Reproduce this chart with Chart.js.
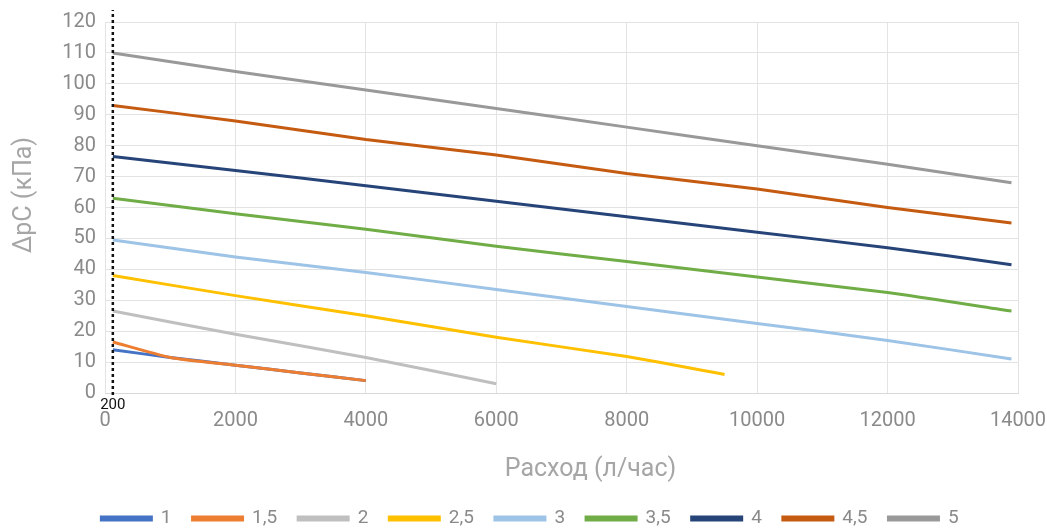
<!DOCTYPE html>
<html>
<head>
<meta charset="utf-8">
<script src="https://cdn.jsdelivr.net/npm/chart.js@4/dist/chart.umd.min.js"></script>
<style>
  html, body { margin: 0; padding: 0; background: #fff; }
  #wrap { width: 1047px; height: 529px; }
</style>
</head>
<body>
<div id="wrap"><canvas id="linechart"></canvas></div>
<script>
// data block
var seriesNames = ["1", "1,5", "2", "2,5", "3", "3,5", "4", "4,5", "5"];
var seriesColors = ["#4472c4", "#ed7d31", "#bfbfbf", "#ffc000", "#9dc3e6", "#70ad47", "#264478", "#c55a11", "#999999"];

var flow1 = [120, 1000, 2000, 3000, 4000];
var dp1 = [14, 11.5, 9, 6.5, 4];
var flow15 = [120, 1000, 2000, 3000, 4000];
var dp15 = [16.5, 11.5, 9, 6.5, 4];
var flow2 = [120, 2000, 4000, 6000];
var dp2 = [26.5, 19, 11.5, 3];
var flow25 = [120, 2000, 4000, 6000, 8000, 9500];
var dp25 = [38, 31.5, 25, 18, 11.8, 6];
var flowLong = [120, 2000, 4000, 6000, 8000, 10000, 12000, 13900];
var dp3 = [49.5, 44, 39, 33.5, 28, 22.5, 17, 11];
var dp35 = [63, 58, 53, 47.5, 42.5, 37.5, 32.5, 26.5];
var dp4 = [76.5, 72, 67, 62, 57, 52, 47, 41.5];
var dp45 = [93, 88, 82, 77, 71, 66, 60, 55];
var dp5 = [110, 104, 98, 92, 86, 80, 74, 68];

var seriesFlows = [flow1, flow15, flow2, flow25, flowLong, flowLong, flowLong, flowLong, flowLong];
var seriesDp = [dp1, dp15, dp2, dp25, dp3, dp35, dp4, dp45, dp5];

var markFlow = 120;
var markLabel = "200";
var xTitle = "Расход (л/час)";
var yTitle = "ΔpC (кПа)";

// datasets; series 1 drawn under 1,5
var datasets = seriesNames.map(function (name, i) {
  return {
    label: name,
    data: seriesFlows[i].map(function (x, j) { return {x: x, y: seriesDp[i][j]}; }),
    borderColor: seriesColors[i],
    backgroundColor: seriesColors[i],
    borderWidth: 3,
    pointRadius: 0,
    tension: 0.2,
    order: i === 0 ? 10 : i
  };
});

// dotted marker line + axis titles
var extrasPlugin = {
  id: 'extras',
  afterDatasetsDraw: function (chart) {
    var ctx = chart.ctx;
    var xs = chart.scales.x, ys = chart.scales.y;
    var px = xs.getPixelForValue(markFlow);
    var y0 = ys.getPixelForValue(0);
    ctx.save();
    ctx.strokeStyle = '#111';
    ctx.lineWidth = 2.5;
    ctx.setLineDash([3, 3]);
    ctx.beginPath();
    ctx.moveTo(px, y0 + 2);
    ctx.lineTo(px, chart.chartArea.top - 12);
    ctx.stroke();
    ctx.setLineDash([]);
    ctx.fillStyle = '#111';
    ctx.font = '15px Roboto';
    ctx.textAlign = 'center';
    ctx.textBaseline = 'middle';
    ctx.fillText(markLabel, px, y0 + 12);

    ctx.fillStyle = '#a6a6a6';
    ctx.font = '25px Roboto';
    ctx.fillText(xTitle, chart.chartArea.left + (chart.chartArea.right - chart.chartArea.left) / 2 + 29, y0 + 77);
    ctx.translate(25, ys.getPixelForValue(64));
    ctx.rotate(-Math.PI / 2);
    ctx.fillText(yTitle, 0, 0);
    ctx.restore();
  }
};

const config = {
  type: "line",
  data: {datasets: datasets},
  options: {
    animation: false,
    maintainAspectRatio: false,
    layout: {padding: {top: 22, right: 29, left: 42, bottom: -9}},
    plugins: {
      legend: {
        position: 'bottom',
        labels: {
          boxWidth: 50,
          boxHeight: 3,
          color: '#8a8a8a',
          font: {family: 'Roboto', size: 19},
          padding: 21,
          sort: function (a, b) { return a.datasetIndex - b.datasetIndex; }
        }
      },
      tooltip: {enabled: false}
    },
    scales: {
      x: {
        type: 'linear',
        min: 0,
        max: 14000,
        ticks: {
          stepSize: 1000,
          color: '#8a8a8a',
          font: {family: 'Roboto', size: 20},
          padding: 16,
          maxRotation: 0,
          autoSkip: false,
          callback: function (v) { return v % 2000 === 0 ? String(v) : null; }
        },
        grid: {color: '#e3e3e3', drawTicks: false},
        border: {color: '#d9d9d9'},
        afterFit: function (scale) {
          scale.height = 95;
          scale.paddingLeft = 0;
          scale.paddingRight = 0;
        }
      },
      y: {
        min: 0,
        max: 120,
        ticks: {stepSize: 10, color: '#8a8a8a', font: {family: 'Roboto', size: 20}, padding: 9},
        grid: {color: '#e3e3e3', drawTicks: false},
        border: {display: false},
        afterFit: function (scale) {
          scale.width = 63;
          scale.paddingTop = 0;
          scale.paddingBottom = 0;
        }
      }
    }
  },
  plugins: [extrasPlugin]
};

// render / init
const linechart = new Chart(document.getElementById('linechart'), config);
</script>
</body>
</html>
